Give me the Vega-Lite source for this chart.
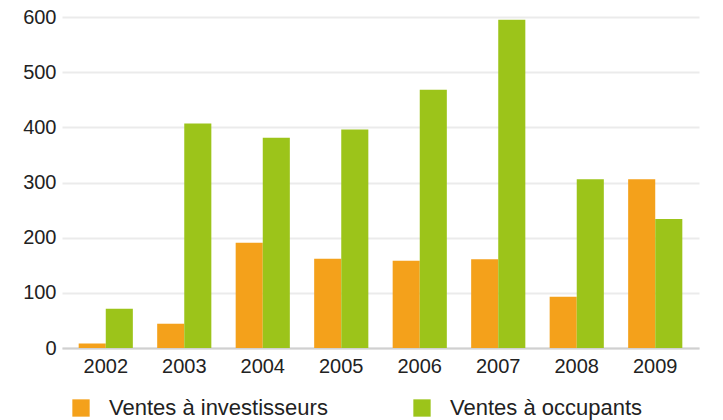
{
  "$schema": "https://vega.github.io/schema/vega-lite/v6.json",
  "autosize": {"type": "none"},
  "width": 637,
  "height": 331,
  "padding": {"left": 62, "top": 17, "right": 24, "bottom": 72},
  "background": "white",
  "config": {
    "font": "Liberation Sans",
    "view": {"stroke": null}
  },
  "data": {
    "values": [
      {"annee": "2002", "type": "Ventes à investisseurs", "ventes": 8},
      {"annee": "2002", "type": "Ventes à occupants", "ventes": 71},
      {"annee": "2003", "type": "Ventes à investisseurs", "ventes": 44},
      {"annee": "2003", "type": "Ventes à occupants", "ventes": 407},
      {"annee": "2004", "type": "Ventes à investisseurs", "ventes": 191},
      {"annee": "2004", "type": "Ventes à occupants", "ventes": 381},
      {"annee": "2005", "type": "Ventes à investisseurs", "ventes": 162},
      {"annee": "2005", "type": "Ventes à occupants", "ventes": 396},
      {"annee": "2006", "type": "Ventes à investisseurs", "ventes": 158},
      {"annee": "2006", "type": "Ventes à occupants", "ventes": 468},
      {"annee": "2007", "type": "Ventes à investisseurs", "ventes": 161},
      {"annee": "2007", "type": "Ventes à occupants", "ventes": 595},
      {"annee": "2008", "type": "Ventes à investisseurs", "ventes": 93},
      {"annee": "2008", "type": "Ventes à occupants", "ventes": 306},
      {"annee": "2009", "type": "Ventes à investisseurs", "ventes": 306},
      {"annee": "2009", "type": "Ventes à occupants", "ventes": 234}
    ]
  },
  "mark": {"type": "bar"},
  "encoding": {
    "x": {
      "field": "annee",
      "type": "nominal",
      "scale": {"paddingInner": 0.31, "paddingOuter": 0.2125},
      "axis": {
        "title": null,
        "labelAngle": 0,
        "labelFontSize": 20,
        "labelColor": "#222222",
        "ticks": false,
        "labelPadding": 8,
        "domainColor": "#d0d0d0",
        "domainWidth": 2,
        "grid": false
      }
    },
    "xOffset": {"field": "type", "type": "nominal", "scale": {"paddingInner": 0}},
    "y": {
      "field": "ventes",
      "type": "quantitative",
      "scale": {"domain": [0, 600], "nice": false},
      "axis": {
        "title": null,
        "values": [0, 100, 200, 300, 400, 500, 600],
        "labelFontSize": 20,
        "labelColor": "#222222",
        "ticks": false,
        "domain": false,
        "labelPadding": 6,
        "gridColor": "#ebebeb",
        "gridWidth": 2
      }
    },
    "color": {
      "field": "type",
      "type": "nominal",
      "scale": {
        "domain": ["Ventes à investisseurs", "Ventes à occupants"],
        "range": ["#F4A11B", "#9CC41A"]
      },
      "legend": {
        "title": null,
        "orient": "none",
        "legendX": 8,
        "legendY": 380,
        "direction": "horizontal",
        "symbolType": "square",
        "symbolSize": 300,
        "symbolStrokeWidth": 0,
        "labelFontSize": 22,
        "labelColor": "#222222",
        "labelOffset": 17,
        "labelLimit": 400,
        "columnPadding": 83
      }
    }
  }
}
